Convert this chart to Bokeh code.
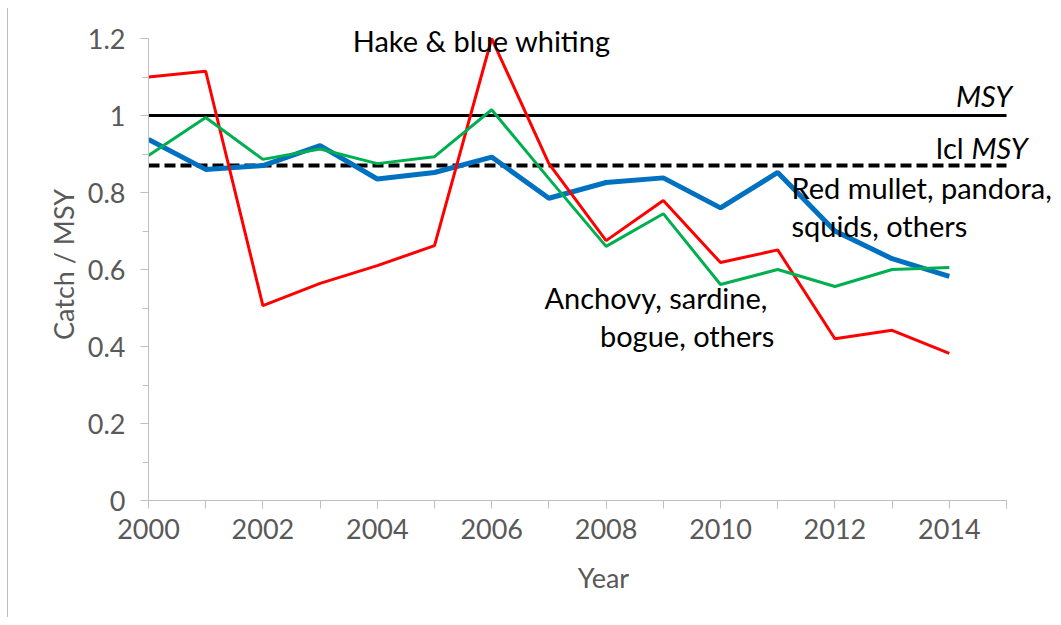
from bokeh.plotting import figure
from bokeh.models import Range1d, FixedTicker, Label, CustomJSTickFormatter
from bokeh.embed import file_html
from bokeh.resources import INLINE

years = list(range(2000, 2015))
hake = [1.10, 1.115, 0.506, 0.564, 0.61, 0.662, 1.20, 0.875, 0.675, 0.779, 0.618, 0.651, 0.42, 0.442, 0.382]
anchovy = [0.896, 0.995, 0.886, 0.913, 0.875, 0.893, 1.015, 0.836, 0.66, 0.745, 0.561, 0.60, 0.556, 0.60, 0.605]
mullet = [0.938, 0.86, 0.87, 0.922, 0.835, 0.852, 0.892, 0.785, 0.826, 0.838, 0.76, 0.852, 0.70, 0.628, 0.582]
ref_years = [2000, 2015]
msy = [1.0, 1.0]
lcl_msy = [0.87, 0.87]
x_major = [2000, 2002, 2004, 2006, 2008, 2010, 2012, 2014]
x_minor = [2001, 2003, 2005, 2007, 2009, 2011, 2013, 2015]
y_major = [0, 0.2, 0.4, 0.6, 0.8, 1.0, 1.2]
y_minor = [0.1, 0.3, 0.5, 0.7, 0.9, 1.1]

FONT = "Lato"
GRAY = "#595959"
AX = "#bfbfbf"

p = figure(width=1050, height=609, output_backend="svg", toolbar_location=None,
           x_range=Range1d(2000, 2015.909), y_range=Range1d(0, 1.226),
           min_border_left=140, min_border_right=0, min_border_top=20, min_border_bottom=117)
p.styles = {"margin-left": "7px", "margin-top": "8px", "border-left": "1px solid #bfbfbf"}
p.outline_line_color = None
p.xgrid.visible = False
p.ygrid.visible = False

p.xaxis.ticker = FixedTicker(ticks=x_major, minor_ticks=x_minor)
p.yaxis.ticker = FixedTicker(ticks=y_major, minor_ticks=y_minor)
p.xaxis.bounds = (2000, 2015)
p.yaxis.bounds = (0, 1.2)
p.yaxis.formatter = CustomJSTickFormatter(code="return tick == 0 ? '0' : (Math.abs(tick-1) < 1e-9 ? '1' : tick.toFixed(1));")
for ax in (p.xaxis, p.yaxis):
    ax.axis_line_color = AX
    ax.axis_line_width = 1
    ax.major_tick_line_color = AX
    ax.minor_tick_line_color = AX
    ax.major_tick_in = 0
    ax.major_tick_out = 8
    ax.minor_tick_in = 0
    ax.minor_tick_out = 8
    ax.major_label_text_color = GRAY
    ax.major_label_text_font = FONT
    ax.major_label_text_font_size = "27px"
    ax.axis_label_text_color = GRAY
    ax.axis_label_text_font = FONT
    ax.axis_label_text_font_size = "27px"
    ax.axis_label_text_font_style = "normal"
p.yaxis.minor_tick_out = 6
p.xaxis.major_label_standoff = 10
p.yaxis.major_label_standoff = 15
p.xaxis.axis_label = "Year"
p.yaxis.axis_label = "Catch / MSY"
p.xaxis.axis_label_standoff = 19
p.yaxis.axis_label_standoff = 5

p.line(ref_years, msy, line_color="black", line_width=3)
p.line(ref_years, lcl_msy, line_color="black", line_width=4, line_dash="11 5")
p.line(years, mullet, line_color="#0070C0", line_width=5)
p.line(years, hake, line_color="#FF0000", line_width=3)
p.line(years, anchovy, line_color="#00B050", line_width=3)

def lab(x, y, t, align="left", style="normal", size="29px", color="black"):
    p.add_layout(Label(x=x, y=y, text=t, text_align=align, text_baseline="middle",
                       text_font=FONT, text_font_size=size, text_font_style=style,
                       text_color=color))

lab(2003.57, 1.195, "Hake & blue whiting")
lab(2015.1, 1.052, "MSY", align="right", style="italic")
lab(2014.25, 0.917, "lcl", align="right")
lab(2015.37, 0.917, "MSY", align="right", style="italic")
lab(2011.24, 0.813, "Red mullet, pandora,")
lab(2011.24, 0.714, "squids, others")
lab(2010.82, 0.527, "Anchovy, sardine,", align="right")
lab(2010.94, 0.429, "bogue, others", align="right")

open("out.html", "w").write(file_html(p, INLINE))
